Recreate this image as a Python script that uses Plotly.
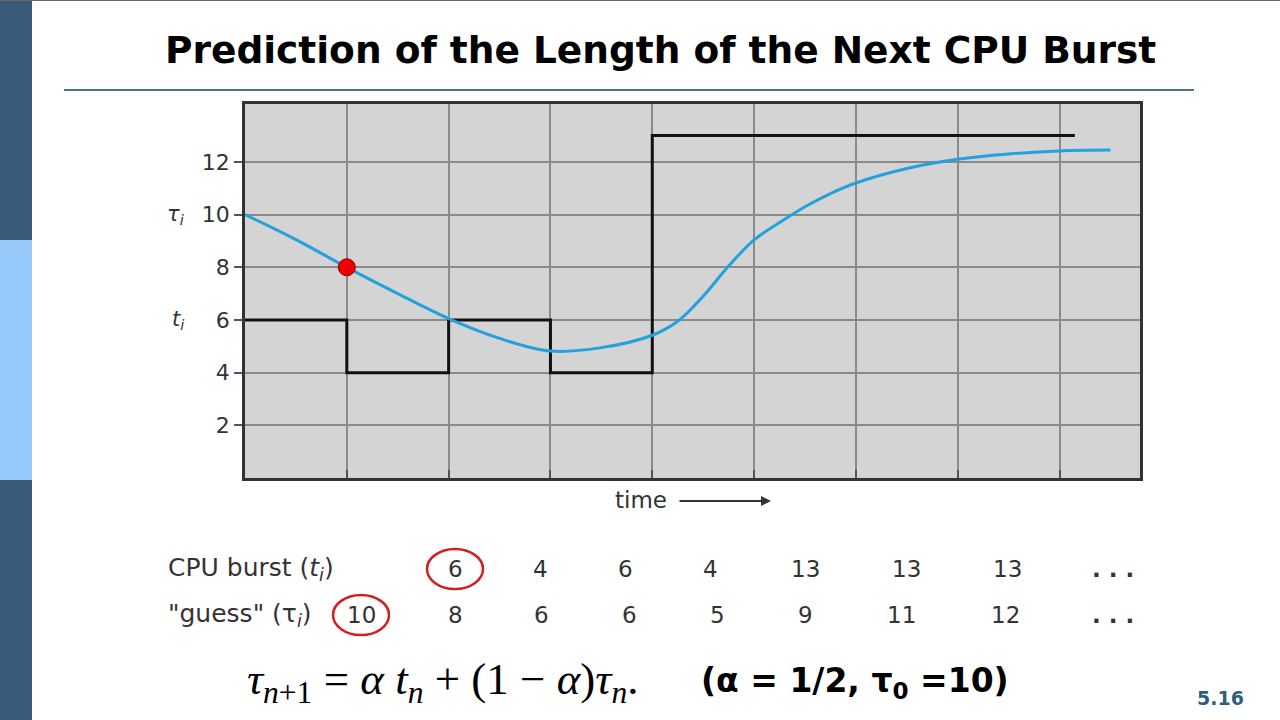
import plotly.graph_objects as go

# ---------------- data ----------------
burst_edges = [0, 1, 2, 3, 4, 8.15]          # time where each burst level starts (last = end of drawn line)
burst_levels = [6, 4, 6, 4, 13, 13]           # t_i drawn as a step line
curve_t = [0, 0.5, 1, 1.5, 2, 2.5, 3, 3.5, 4.0, 4.25, 4.5, 4.75, 5.0,
           5.25, 5.5, 5.75, 6.0, 6.5, 7.0, 7.5, 8.0, 8.5]
curve_tau = [10, 9.05, 8, 7.0, 6.05, 5.3, 4.82, 4.95, 5.42, 5.95, 6.9, 8.05, 9.04,
             9.7, 10.3, 10.8, 11.2, 11.75, 12.1, 12.3, 12.42, 12.45]
dot_t = [1]
dot_tau = [8]
y_ticks = [2, 4, 6, 8, 10, 12]
x_grid = [1, 2, 3, 4, 5, 6, 7, 8]
cpu_burst = ["6", "4", "6", "4", "13", "13", "13", "..."]
guess = ["10", "8", "6", "6", "5", "9", "11", "12", "..."]

# ---------------- layout helpers ----------------
W, H = 1280, 720
def px(x):
    return x / W
def py(y):
    return 1 - y / H

SANS = "DejaVu Sans, Liberation Sans, Arial"
burst_cols = [455, 540, 625, 710, 805, 906, 1007, 1113]
guess_cols = [361, 455, 541, 629, 717, 805, 901, 1005, 1113]
row1_y, row2_y = 569, 615

fig = go.Figure()

fig.add_trace(go.Scatter(x=burst_edges, y=burst_levels, mode="lines",
                         line=dict(color="#111111", width=3, shape="hv"),
                         hoverinfo="skip", showlegend=False))
fig.add_trace(go.Scatter(x=curve_t, y=curve_tau, mode="lines",
                         line=dict(color="#22a2dc", width=3, shape="spline", smoothing=1.0),
                         hoverinfo="skip", showlegend=False))
fig.add_trace(go.Scatter(x=dot_t, y=dot_tau, mode="markers",
                         marker=dict(color="#ee0000", size=17, line=dict(color="#8a0000", width=1)),
                         hoverinfo="skip", showlegend=False))

fig.update_layout(
    width=W, height=H,
    margin=dict(l=0, r=0, t=0, b=0),
    paper_bgcolor="white",
    plot_bgcolor="#d4d4d4",
    showlegend=False,
    xaxis=dict(domain=[px(245), px(1140)], range=[0, 8.79],
               tickvals=x_grid, showticklabels=False,
               showgrid=True, gridcolor="#8a8a8a", gridwidth=2,
               ticks="inside", ticklen=8, tickcolor="#555555", tickwidth=2,
               showline=True, linecolor="#333333", linewidth=2.5, mirror=True,
               zeroline=False, fixedrange=True),
    yaxis=dict(domain=[py(478), py(104)], range=[0, 14.2],
               tickvals=y_ticks,
               showgrid=True, gridcolor="#8a8a8a", gridwidth=2,
               ticks="outside", ticklen=8, tickcolor="#555555", tickwidth=2,
               tickfont=dict(family=SANS, size=22, color="#333333"),
               showline=True, linecolor="#333333", linewidth=2.5, mirror=True,
               zeroline=False, fixedrange=True),
)

shapes = []
# left sidebar
shapes.append(dict(type="rect", xref="paper", yref="paper", x0=0, x1=px(32), y0=py(240), y1=1,
                   fillcolor="#3a5a7a", line=dict(width=0), layer="below"))
shapes.append(dict(type="rect", xref="paper", yref="paper", x0=0, x1=px(32), y0=py(480), y1=py(240),
                   fillcolor="#98c9fb", line=dict(width=0), layer="below"))
shapes.append(dict(type="rect", xref="paper", yref="paper", x0=0, x1=px(32), y0=0, y1=py(480),
                   fillcolor="#3a5a7a", line=dict(width=0), layer="below"))
# thin top border
shapes.append(dict(type="line", xref="paper", yref="paper", x0=0, x1=1, y0=py(0.5), y1=py(0.5),
                   line=dict(color="#666666", width=1)))
# title rule
shapes.append(dict(type="line", xref="paper", yref="paper", x0=px(64), x1=px(1194), y0=py(90), y1=py(90),
                   line=dict(color="#50708c", width=2)))
# red circles around the first values
for cx, cy in [(burst_cols[0], row1_y), (guess_cols[0], row2_y)]:
    shapes.append(dict(type="circle", xref="paper", yref="paper",
                       x0=px(cx - 28), x1=px(cx + 28), y0=py(cy + 20), y1=py(cy - 20),
                       line=dict(color="#d41e1e", width=2.5)))
fig.update_layout(shapes=shapes)

ann = []
def text(x, y, s, size=20, family=SANS, color="#333333", xanchor="center"):
    ann.append(dict(xref="paper", yref="paper", x=px(x), y=py(y), text=s, showarrow=False,
                    xanchor=xanchor, yanchor="middle",
                    font=dict(family=family, size=size, color=color)))

# title
text(660, 50, "<b>Prediction of the Length of the Next CPU Burst</b>", size=37.5,
     family="DejaVu Sans, sans-serif", color="#000000")
# side labels
text(176, 215, "<i>τ<sub>i</sub></i>", size=21)
text(178, 320, "<i>t<sub>i</sub></i>", size=21)
# time arrow
text(641, 500, "time", size=23)
ann.append(dict(xref="paper", yref="paper", x=px(771), y=py(501), ax=-93, ay=0,
                text="", showarrow=True, arrowhead=2, arrowsize=1, arrowwidth=2, arrowcolor="#333333"))
# table
text(166, row1_y, "CPU burst (<i>t<sub>i</sub></i>)", size=25, xanchor="left")
text(166, row2_y, "\"guess\" (τ<sub><i>i</i></sub>)", size=25, xanchor="left")
for cx, v in zip(burst_cols, cpu_burst):
    text(cx, row1_y, "<b>. . .</b>" if v == "..." else v, size=23)
for cx, v in zip(guess_cols, guess):
    text(cx, row2_y, "<b>. . .</b>" if v == "..." else v, size=23)
# formula
text(245, 682, "<i>τ</i><sub><i>n</i>+1</sub> = <i>α t</i><sub><i>n</i></sub> + (1 − <i>α</i>)<i>τ</i><sub><i>n</i></sub>.",
     size=45, family="Liberation Serif, Times New Roman, serif", color="#000000", xanchor="left")
text(855, 682, "<b>(α = 1/2, τ<sub>0</sub> =10)</b>", size=33,
     family="DejaVu Sans, sans-serif", color="#000000")
# slide number
text(1220, 698, "<b>5.16</b>", size=19, family="DejaVu Sans, sans-serif", color="#2e5f80")

fig.update_layout(annotations=ann)
fig.write_html("out.html")
